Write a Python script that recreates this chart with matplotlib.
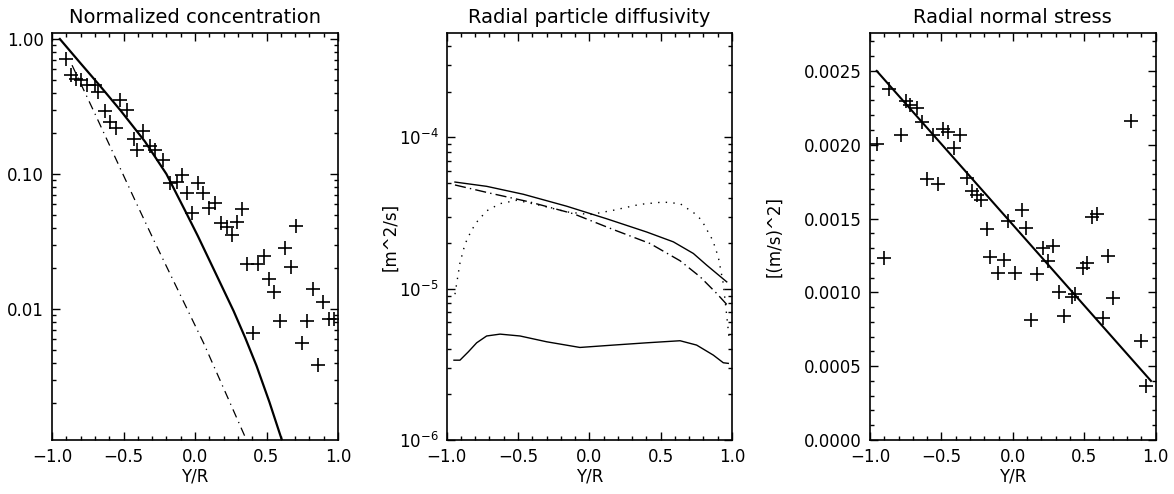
import matplotlib
matplotlib.use("Agg")
import matplotlib.pyplot as plt
from matplotlib.ticker import FixedLocator, FixedFormatter, LogLocator, MultipleLocator, FormatStrFormatter, NullFormatter

# ---------------- Data ----------------
# Panel 1: Normalized concentration
conc_model_x = [-0.945, -0.80, -0.67, -0.52, -0.35, -0.20, -0.07, 0.02, 0.14, 0.27, 0.35, 0.43, 0.52, 0.61]
conc_model_y = [1.0, 0.66, 0.457, 0.295, 0.174, 0.100, 0.0537, 0.0347, 0.0188, 0.00966, 0.00616, 0.0038, 0.00205, 0.00105]
conc_dd_x = [-0.86, -0.70, -0.56, -0.42, -0.28, 0.06, 0.36]
conc_dd_y = [0.64, 0.28, 0.134, 0.064, 0.031, 0.0056, 0.00107]
conc_meas_x = [-0.904, -0.867, -0.832, -0.80, -0.753, -0.70, -0.676, -0.524, -0.478, -0.627,
               -0.594, -0.555, -0.424, -0.366, -0.408, -0.315, -0.28, -0.222, -0.175, -0.128,
               -0.093, -0.058, 0.023, 0.058, -0.023, 0.10, 0.14, 0.18, 0.222, 0.257,
               0.291, 0.331, 0.706, 0.629, 0.361, 0.443, 0.485, 0.671, 0.52, 0.552,
               0.408, 0.594, 0.823, 0.897, 0.786, 0.746, 0.863, 0.94, 0.975]
conc_meas_y = [0.711, 0.541, 0.503, 0.497, 0.456, 0.456, 0.407, 0.353, 0.298, 0.293,
               0.244, 0.218, 0.181, 0.209, 0.150, 0.161, 0.150, 0.127, 0.0852, 0.0876,
               0.0984, 0.0720, 0.0860, 0.0728, 0.051, 0.0558, 0.0607, 0.0433, 0.0408, 0.0354,
               0.0444, 0.0548, 0.0411, 0.0283, 0.0215, 0.0217, 0.0245, 0.0204, 0.0168, 0.0133,
               0.00661, 0.00815, 0.0141, 0.0112, 0.00815, 0.0056, 0.00383, 0.0085, 0.0085]

# Panel 2: Radial particle diffusivity
diff_solid_x = [-0.942, -0.72, -0.463, -0.159, 0.121, 0.402, 0.589, 0.729, 0.823, 0.963]
diff_solid_y = [5.07e-5, 4.75e-5, 4.21e-5, 3.51e-5, 2.90e-5, 2.37e-5, 2.04e-5, 1.71e-5, 1.43e-5, 1.11e-5]
diff_dd_x = [-0.942, -0.696, -0.416, -0.112, 0.168, 0.425, 0.636, 0.776, 0.893, 0.967]
diff_dd_y = [4.85e-5, 4.28e-5, 3.74e-5, 3.13e-5, 2.46e-5, 1.99e-5, 1.53e-5, 1.20e-5, 9.3e-6, 7.8e-6]
diff_dot_x = [-0.942, -0.907, -0.872, -0.832, -0.795, -0.72, -0.626, -0.509, -0.346, -0.159,
              0.005, 0.168, 0.355, 0.518, 0.636, 0.741, 0.788, 0.823, 0.865, 0.904, 0.939, 0.981]
diff_dot_y = [9.2e-6, 1.48e-5, 1.97e-5, 2.37e-5, 2.72e-5, 3.27e-5, 3.65e-5, 3.84e-5, 3.56e-5, 3.22e-5,
              3.09e-5, 3.30e-5, 3.61e-5, 3.74e-5, 3.65e-5, 3.13e-5, 2.83e-5, 2.46e-5, 2.09e-5, 1.62e-5,
              1.08e-5, 4.6e-6]
diff_low_x = [-0.949, -0.907, -0.848, -0.79, -0.72, -0.626, -0.486, -0.30, -0.066, 0.168,
              0.402, 0.636, 0.752, 0.869, 0.939, 0.974]
diff_low_y = [3.37e-6, 3.37e-6, 3.83e-6, 4.39e-6, 4.87e-6, 5.01e-6, 4.87e-6, 4.46e-6, 4.09e-6, 4.24e-6,
              4.39e-6, 4.53e-6, 4.24e-6, 3.64e-6, 3.24e-6, 3.21e-6]

# Panel 3: Radial normal stress
stress_fit_x = [-0.953, 0.967]
stress_fit_y = [0.0025, 0.0004]
stress_meas_x = [-0.949, -0.867, -0.785, -0.748, -0.72, -0.673, -0.638, -0.561, -0.487, -0.452,
                 -0.37, -0.41, -0.603, -0.526, -0.323, -0.288, -0.253, -0.225, -0.183, -0.036,
                 0.062, 0.092, 0.552, 0.587, 0.825, -0.902, -0.16, -0.06, -0.106, 0.015,
                 0.167, 0.213, 0.283, 0.248, 0.127, 0.325, 0.358, 0.412, 0.435, 0.489,
                 0.517, 0.629, 0.668, 0.703, 0.897, 0.932]
stress_meas_y = [0.002003, 0.002376, 0.002064, 0.002297, 0.002268, 0.002251, 0.002154, 0.002064, 0.002105, 0.002087,
                 0.002064, 0.00198, 0.001766, 0.001736, 0.001777, 0.001687, 0.001658, 0.001626, 0.001432, 0.001484,
                 0.001556, 0.001438, 0.001511, 0.001529, 0.002161, 0.001235, 0.001242, 0.00122, 0.001129, 0.001129,
                 0.001127, 0.001299, 0.001314, 0.001213, 0.000813, 0.001005, 0.00084, 0.000971, 0.000991, 0.001167,
                 0.001197, 0.000829, 0.001247, 0.00096, 0.000671, 0.000366]

xticks = [-1.0, -0.5, 0.0, 0.5, 1.0]
xticklabels = ["\u22121.0", "\u22120.5", "0.0", "0.5", "1.0"]
titles = ["Normalized concentration", "Radial particle diffusivity", "Radial normal stress"]

# ---------------- Figure ----------------
plt.rcParams['font.family'] = ['DejaVu Sans']
fig = plt.figure(figsize=(11.74, 4.94), dpi=100)

W, H = 1174.0, 494.0
bottom = 1 - 440 / H
height = (440 - 33) / H
ax1 = fig.add_axes([52 / W, bottom, 286 / W, height])
ax2 = fig.add_axes([446.7 / W, bottom, 285.3 / W, height])
ax3 = fig.add_axes([870 / W, bottom, 285.7 / W, height])

cross_kw = dict(linestyle='none', marker='+', markersize=9.5, markeredgewidth=1.2, color='black')

# Panel 1
ax1.plot(conc_model_x, conc_model_y, color='black', lw=1.6)
ax1.plot(conc_dd_x, conc_dd_y, color='black', lw=0.9, linestyle=(0, (7, 4, 1, 4)))
ax1.plot(conc_meas_x, conc_meas_y, **cross_kw)
ax1.set_yscale('log')
ax1.set_ylim(0.00107, 1.108)
ax1.yaxis.set_major_locator(FixedLocator([0.01, 0.1, 1.0]))
ax1.yaxis.set_major_formatter(FixedFormatter(["0.01", "0.10", "1.00"]))
ax1.yaxis.set_minor_locator(LogLocator(base=10, subs=range(2, 10)))
ax1.yaxis.set_minor_formatter(NullFormatter())

# Panel 2
ax2.plot(diff_solid_x, diff_solid_y, color='black', lw=1.0)
ax2.plot(diff_dd_x, diff_dd_y, color='black', lw=1.0, linestyle=(0, (8, 3, 1, 3)))
ax2.plot(diff_dot_x, diff_dot_y, color='black', lw=1.0, linestyle=(0, (1, 4.5)))
ax2.plot(diff_low_x, diff_low_y, color='black', lw=1.0)
ax2.set_yscale('log')
ax2.set_ylim(1e-6, 4.9e-4)
ax2.yaxis.set_major_locator(FixedLocator([1e-6, 1e-5, 1e-4]))
ax2.yaxis.set_major_formatter(FixedFormatter([r"$10^{-6}$", r"$10^{-5}$", r"$10^{-4}$"]))
ax2.yaxis.set_minor_locator(LogLocator(base=10, subs=range(2, 10)))
ax2.yaxis.set_minor_formatter(NullFormatter())
ax2.set_ylabel("[m^2/s]", fontsize=12)
ax2.yaxis.set_label_coords(-0.165, 0.5)

# Panel 3
ax3.plot(stress_fit_x, stress_fit_y, color='black', lw=1.5)
ax3.plot(stress_meas_x, stress_meas_y, **cross_kw)
ax3.set_ylim(0, 0.002757)
ax3.yaxis.set_major_locator(MultipleLocator(0.0005))
ax3.yaxis.set_minor_locator(MultipleLocator(0.0001))
ax3.yaxis.set_major_formatter(FormatStrFormatter('%.4f'))
ax3.set_ylabel("[(m/s)^2]", fontsize=12)
ax3.yaxis.set_label_coords(-0.305, 0.5)

for ax, t in zip([ax1, ax2, ax3], titles):
    ax.set_xlim(-1, 1)
    ax.xaxis.set_major_locator(FixedLocator(xticks))
    ax.xaxis.set_major_formatter(FixedFormatter(xticklabels))
    ax.xaxis.set_minor_locator(MultipleLocator(0.1))
    ax.tick_params(which='both', direction='in', top=True, right=True, labelsize=12, width=1.0)
    ax.tick_params(which='major', length=6, pad=6)
    ax.tick_params(which='minor', length=3)
    for s in ax.spines.values():
        s.set_linewidth(1.2)
    ax.set_title(t, fontsize=14, pad=7)
    ax.set_xlabel("Y/R", fontsize=12, labelpad=1)

fig.savefig("out.png", dpi=100)
